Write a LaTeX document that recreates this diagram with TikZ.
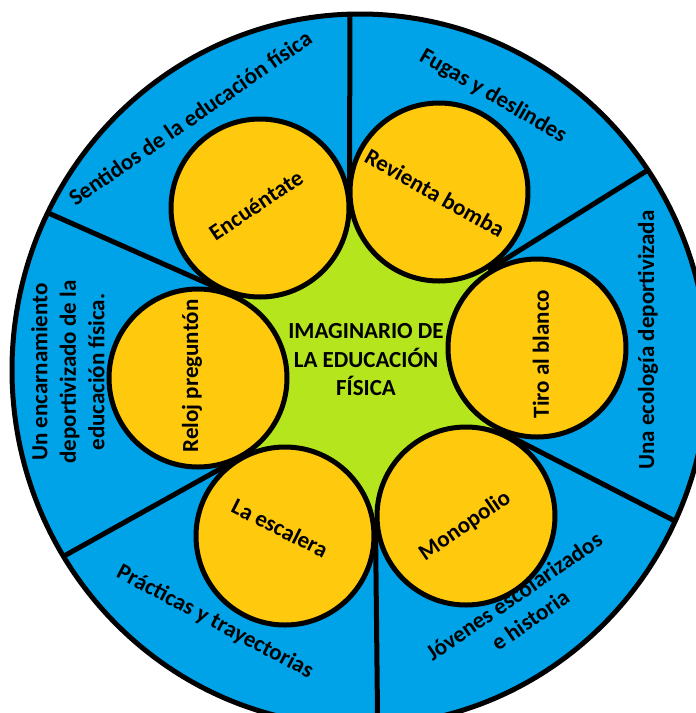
\documentclass[tikz,border=0pt]{standalone}
\usepackage{fontspec}
\setmainfont{Carlito}
\usetikzlibrary{calc}
\definecolor{ringblue}{HTML}{00A2E8}
\definecolor{gold}{HTML}{FFC90E}
\definecolor{lime}{HTML}{B5E61D}
\newcommand{\lblfont}{\bfseries\fontsize{23}{28.5}\selectfont}
\begin{document}
\begin{tikzpicture}[x=1pt,y=-1pt,
  yc/.style={circle, draw=black, line width=5pt, fill=gold, minimum size=178pt, inner sep=0pt},
  lbl/.style={font=\lblfont, align=center, inner sep=0pt},
  div/.style={line width=5pt, draw=black}]
\useasboundingbox (0,0) rectangle (696,713);
\clip (0,0) rectangle (696,713);
% circle centres
\coordinate (cEnc) at (260,208);
\coordinate (cRev) at (439,192);
\coordinate (cTiro) at (537,348);
\coordinate (cMono) at (466,516);
\coordinate (cEsc) at (285,536);
\coordinate (cReloj) at (198,378);
% tangent points
\coordinate (t1) at ($(cEnc)!0.5!(cRev)$);
\coordinate (t2) at ($(cRev)!0.5!(cTiro)$);
\coordinate (t3) at ($(cTiro)!0.5!(cMono)$);
\coordinate (t4) at ($(cMono)!0.5!(cEsc)$);
\coordinate (t5) at ($(cEsc)!0.5!(cReloj)$);
\coordinate (t6) at ($(cReloj)!0.5!(cEnc)$);
% outer ends
\coordinate (o1) at (350,-10);
\coordinate (o2) at (680,150);
\coordinate (o3) at (710,539);
\coordinate (o4) at (378,760);
\coordinate (o5) at (30,575);
\coordinate (o6) at (10,196);
% outer ring
\fill[ringblue] (360,370) ellipse [x radius=348pt, y radius=356pt];
\begin{scope}
  \clip (360,370) ellipse [x radius=348pt, y radius=356pt];
  \draw[div] (t1) -- (o1);
  \draw[div] (t2) -- (o2);
  \draw[div] (t3) -- (o3);
  \draw[div] (t4) -- (o4);
  \draw[div] (t5) -- (o5);
  \draw[div] (t6) -- (o6);
\end{scope}
\draw[line width=5pt] (360,370) ellipse [x radius=348pt, y radius=356pt];
% green centre
\fill[lime] (cEnc) -- (cRev) -- (cTiro) -- (cMono) -- (cEsc) -- (cReloj) -- cycle;
% yellow circles
\node[yc] (enc) at (cEnc) {};
\node[yc] (rev) at (cRev) {};
\node[yc] (tiro) at (cTiro) {};
\node[yc] (mono) at (cMono) {};
\node[yc] (esc) at (cEsc) {};
\node[yc] (reloj) at (cReloj) {};
% circle labels
\node[lbl, rotate=33.7] (lEnc) at (256,205) {Encuéntate};
\node[lbl, rotate=-29.4] (lRev) at (435,193) {Revienta bomba};
\node[lbl, rotate=90] (lTiro) at (541,354) {Tiro al blanco};
\node[lbl, rotate=34.5] (lMono) at (465,526) {Monopolio};
\node[lbl, rotate=-26.6] (lEsc) at (280,528) {La escalera};
\node[lbl, rotate=90] (lReloj) at (192,376) {Reloj preguntón};
% centre label
\node[lbl] (centre) at (366,360) {IMAGINARIO DE\\LA EDUCACIÓN\\FÍSICA};
% ring labels
\node[lbl, rotate=34.6] (s1) at (190,118) {Sentidos de la educación física};
\node[lbl, rotate=-30] (s2) at (493,96) {Fugas y deslindes};
\node[lbl, rotate=90] (s3) at (648,340) {Una ecología deportivizada};
\node[lbl, rotate=34.6] (s4) at (522,608) {Jóvenes escolarizados\\e historia};
\node[lbl, rotate=-27.7] (s5) at (215,622) {Prácticas y trayectorias};
\node[lbl, rotate=90] (s6) at (68,372) {Un encarnamiento\\deportivizado de la\\educación física.};
\end{tikzpicture}
\end{document}
